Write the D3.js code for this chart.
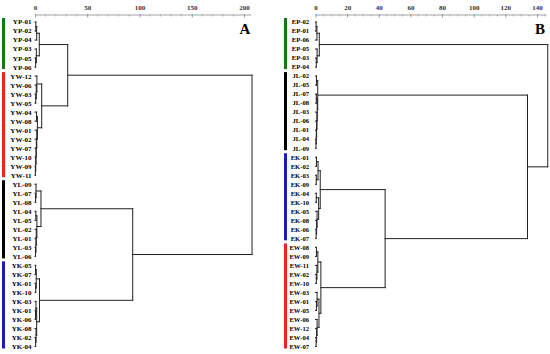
<!DOCTYPE html>
<html><head><meta charset="utf-8">
<script src="https://cdn.jsdelivr.net/npm/d3@7"></script>
<style>body{margin:0;background:#fff}svg{display:block}</style>
</head><body>
<svg id="chart" width="550" height="354"></svg>
<script>
// ---------- DATA ----------
const leavesA = ["YP-01","YP-02","YP-04","YP-03","YP-05","YP-06",
  "YW-12","YW-06","YW-03","YW-05","YW-04","YW-08","YW-01","YW-02","YW-07","YW-10","YW-09","YW-11",
  "YL-09","YL-07","YL-08","YL-04","YL-05","YL-02","YL-01","YL-03","YL-06",
  "YK-05","YK-07","YK-01","YK-10","YK-03","YK-01","YK-06","YK-08","YK-02","YK-04"];
// linkage: [childA, childB, height]; ids < 37 are leaves, id 37+k is merge k
const mergesA = [
  [0,1,0.8],[37,2,1.6],[4,5,0.6],[3,39,1.3],[38,40,4.1],
  [8,9,0.7],[7,42,1.2],[6,43,1.8],[10,11,1.5],[16,17,0.4],[15,46,0.7],[14,47,1.0],[13,48,1.3],[12,49,1.7],[45,50,2.3],[44,51,6.4],
  [41,52,31.3],
  [19,20,0.6],[18,54,1.0],[25,26,0.5],[24,56,0.9],[23,57,1.2],[21,22,0.8],[59,58,1.8],[55,60,5.7],
  [27,28,0.6],[29,30,0.7],[62,63,1.2],[32,33,0.5],[31,65,0.9],[35,36,0.6],[34,67,1.0],[66,68,1.6],[64,69,4.3],
  [61,70,93.5],[53,71,207.7]];
const groupsA = ["YP","YW","YL","YK"];
const ticksA = [0,50,100,150,200];

const leavesB = ["EP-02","EP-01","EP-06","EP-05","EP-03","EP-04",
  "JL-02","JL-05","JL-07","JL-08","JL-03","JL-06","JL-01","JL-04","JL-09",
  "EK-01","EK-02","EK-03","EK-09","EK-04","EK-10","EK-05","EK-08","EK-06","EK-07",
  "EW-08","EW-09","EW-11","EW-02","EW-10","EW-03","EW-01","EW-05","EW-06","EW-12","EW-04","EW-07"];
const mergesB = [
  [0,1,0.4],[37,2,0.9],[4,5,0.5],[3,39,1.0],[38,40,2.4],
  [6,7,0.6],[13,14,0.3],[12,43,0.5],[11,44,0.7],[10,45,0.9],[8,9,0.5],[47,46,1.1],[42,48,1.4],
  [15,16,0.6],[17,18,0.5],[50,51,1.6],[19,20,0.5],[23,24,0.4],[22,54,0.7],[21,55,1.0],[53,56,2.0],[52,57,3.0],
  [25,26,0.6],[28,29,0.5],[27,60,0.9],[59,61,1.5],[31,32,0.6],[30,63,1.0],[35,36,0.4],[34,65,0.7],[33,66,1.0],[64,67,2.2],[62,68,3.4],
  [58,69,44],[49,70,134],[41,71,146.8]];
const groupsB = ["EP","JL","EK","EW"];
const ticksB = [0,20,40,60,80,100,120,140];

const groupColor = {YP:"#137a13",YW:"#ec2424",YL:"#000000",YK:"#1c1cb4",
                    EP:"#137a13",JL:"#000000",EK:"#1c1cb4",EW:"#ec2424"};

// ---------- DRAW ----------
const svg = d3.select("#chart");
const serif = "'Liberation Serif','Times New Roman',serif";

function buildTree(leaves, merges){
  const n = leaves.length;
  const nodes = leaves.map((name,i)=>({name, index:i, height:0}));
  merges.forEach((m,k)=>{ nodes[n+k] = {children:[nodes[m[0]], nodes[m[1]]], height:m[2]}; });
  return d3.hierarchy(nodes[nodes.length-1], d=>d.children);
}

function panel(cfg){
  const {leaves, merges, groups, ticks, x0, x1, dMax, axisEnd, minorStep, labelX, barX, letter, letterX, fontSize} = cfg;
  const g = svg.append("g");
  const x = d3.scaleLinear().domain([0,dMax]).range([x0,x1]);
  const y = d3.scaleLinear().domain([0,leaves.length-1]).range([22,346.5]);

  // axis
  const ax = g.append("g").attr("transform","translate(0,15)");
  ax.append("line").attr("x1",x(0)).attr("x2",x(axisEnd)).attr("stroke","#8a8a8a").attr("stroke-width",0.8);
  const minor = d3.range(0, axisEnd, minorStep).filter(v=>!ticks.includes(v));
  ax.selectAll("line.minor").data(minor).join("line").attr("class","minor")
    .attr("x1",d=>x(d)).attr("x2",d=>x(d)).attr("y1",-0.5).attr("y2",1.5).attr("stroke","#999").attr("stroke-width",0.7);
  const axis = d3.axisTop(x).tickValues(ticks).tickSize(-2.5).tickPadding(5).tickFormat(d3.format("d"));
  const axg = ax.append("g").call(axis);
  axg.select(".domain").remove();
  axg.selectAll(".tick line").attr("stroke","#888").attr("stroke-width",0.8).attr("y1",-1);
  axg.selectAll("text").attr("font-family",serif).attr("font-weight","bold").attr("font-size",7).attr("fill","#333");

  // layout
  const root = buildTree(leaves, merges);
  root.eachAfter(d=>{
    if(!d.children) d.py = y(d.data.index);
    else d.py = d3.mean(d.children, c=>c.py);
    d.px = x(d.data.height);
  });
  const links = [];
  root.each(d=>{ if(d.children){
    links.push({x1:d.px,y1:d.children[0].py,x2:d.px,y2:d.children[1].py});
    d.children.forEach(c=>links.push({x1:c.px,y1:c.py,x2:d.px,y2:c.py}));
  }});
  g.append("g").selectAll("line").data(links).join("line")
    .attr("x1",d=>d.x1).attr("y1",d=>d.y1).attr("x2",d=>d.x2).attr("y2",d=>d.y2)
    .attr("stroke","#222").attr("stroke-width",1).attr("stroke-linecap","square");

  // leaf labels
  g.append("g").selectAll("text").data(leaves).join("text")
    .attr("x",labelX).attr("y",(d,i)=>y(i)).attr("dy","0.35em").attr("text-anchor","end")
    .attr("font-family",serif).attr("font-weight","bold").attr("font-size",fontSize).attr("fill","#000")
    .text(d=>d);

  // group bars
  groups.forEach(gr=>{
    const idx = leaves.map((l,i)=>l.startsWith(gr+"-")?i:-1).filter(i=>i>=0);
    const a = d3.min(idx), b = d3.max(idx);
    g.append("rect").attr("x",barX).attr("width",3)
      .attr("y",y(a)-4).attr("height",y(b)-y(a)+6).attr("fill",groupColor[gr]);
  });

  g.append("text").attr("x",letterX).attr("y",34).attr("text-anchor","middle")
    .attr("font-family",serif).attr("font-weight","bold").attr("font-size",15).attr("fill","#000").text(letter);
}

panel({leaves:leavesA, merges:mergesA, groups:groupsA, ticks:ticksA, x0:35, x1:244, dMax:200,
  axisEnd:207, minorStep:10, labelX:31.5, barX:2, letter:"A", letterX:245, fontSize:7});
panel({leaves:leavesB, merges:mergesB, groups:groupsB, ticks:ticksB, x0:315.5, x1:537, dMax:140,
  axisEnd:146, minorStep:5, labelX:309, barX:284, letter:"B", letterX:540, fontSize:6.6});
</script>
</body></html>
